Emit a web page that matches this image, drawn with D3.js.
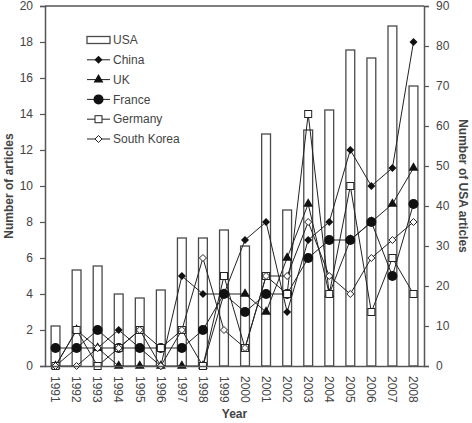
<!DOCTYPE html>
<html>
<head>
<meta charset="utf-8">
<script src="https://cdn.jsdelivr.net/npm/d3@7"></script>
<style>
  body { margin: 0; background: #fff; }
  text { font-family: "Liberation Sans", Arial, sans-serif; }
</style>
</head>
<body>
<svg id="chart" width="472" height="423"></svg>
<script>
// data
var years = ['1991', '1992', '1993', '1994', '1995', '1996', '1997', '1998', '1999',
  '2000', '2001', '2002', '2003', '2004', '2005', '2006', '2007', '2008']
var usa = [10, 24, 25, 18, 17, 19, 32, 32, 34, 30, 58, 39, 59, 64, 79, 77, 85, 70]
var china = [0, 1, 1, 2, 1, 0, 5, 4, 4, 7, 8, 3, 7, 8, 12, 10, 11, 18]
var uk = [0, 2, 1, 0, 0, 0, 0, 0, 4, 4, 3, 6, 9, 4, 7, 8, 9, 11]
var france = [1, 1, 2, 1, 1, 1, 1, 2, 4, 3, 4, 4, 6, 7, 7, 8, 5, 9]
var germany = [0, 2, 0, 1, 2, 1, 2, 0, 5, 1, 5, 4, 14, 4, 10, 3, 6, 4]
var southKorea = [0, 0, 1, 1, 2, 0, 2, 6, 2, 1, 5, 5, 8, 5, 4, 6, 7, 8]
var leftTicks = [0, 2, 4, 6, 8, 10, 12, 14, 16, 18, 20]
var rightTicks = [0, 10, 20, 30, 40, 50, 60, 70, 80, 90]

var series = [
  {name: 'China', values: china, marker: 'diamondFill'},
  {name: 'UK', values: uk, marker: 'triangle'},
  {name: 'France', values: france, marker: 'circle'},
  {name: 'Germany', values: germany, marker: 'square'},
  {name: 'South Korea', values: southKorea, marker: 'diamondOpen'}
]

var svg = d3.select('#chart')
var margin = {top: 6, right: 48, bottom: 57, left: 45}
var width = 472 - margin.left - margin.right
var height = 423 - margin.top - margin.bottom
var axisColor = '#555'
var textColor = '#444'
var fontSize = 12

var g = svg.append('g')
  .attr('transform', 'translate(' + margin.left + ',' + margin.top + ')')

// scales
var x = d3.scaleBand().domain(years).range([0, width])
var y = d3.scaleLinear().domain([0, 20]).range([height, 0])
var y2 = d3.scaleLinear().domain([0, 90]).range([height, 0])
var cx = function (i) { return x(years[i]) + x.bandwidth() / 2 }

// bars (USA, right axis)
var barW = x.bandwidth() * 0.42
g.selectAll('rect.usa').data(usa).enter().append('rect')
  .attr('class', 'usa')
  .attr('x', (d, i) => cx(i) - barW / 2)
  .attr('y', (d) => y2(d))
  .attr('width', barW)
  .attr('height', (d) => height - y2(d))
  .attr('fill', '#fff')
  .attr('stroke', '#4a4a4a')
  .attr('stroke-width', 1.3)

// marker drawing
function drawMarker (sel, type) {
  if (type === 'circle') {
    sel.append('circle').attr('r', 5).attr('fill', '#111')
  } else if (type === 'triangle') {
    sel.append('path').attr('d', d3.symbol().type(d3.symbolTriangle).size(42)).attr('fill', '#111')
  } else if (type === 'diamondFill') {
    sel.append('path').attr('d', 'M0,-4L4,0L0,4L-4,0Z').attr('fill', '#111')
  } else if (type === 'square') {
    sel.append('rect').attr('x', -3.5).attr('y', -3.5).attr('width', 7).attr('height', 7)
      .attr('fill', '#fff').attr('stroke', '#222').attr('stroke-width', 1)
  } else if (type === 'diamondOpen') {
    sel.append('path').attr('d', 'M0,-3.5L3.5,0L0,3.5L-3.5,0Z')
      .attr('fill', '#fff').attr('stroke', '#222').attr('stroke-width', 1)
  }
}

var line = d3.line().x((d, i) => cx(i)).y((d) => y(d))
series.forEach(function (s) {
  g.append('path').datum(s.values)
    .attr('fill', 'none')
    .attr('stroke', '#222')
    .attr('stroke-width', 1)
    .attr('d', line)
})
series.forEach(function (s) {
  s.values.forEach(function (v, i) {
    var m = g.append('g').attr('transform', 'translate(' + cx(i) + ',' + y(v) + ')')
    drawMarker(m, s.marker)
  })
})

// axes
var leftAxis = g.append('g')
  .call(d3.axisLeft(y).tickValues(leftTicks).tickSize(5).tickPadding(7))
var rightAxis = g.append('g')
  .attr('transform', 'translate(' + width + ',0)')
  .call(d3.axisRight(y2).tickValues(rightTicks).tickSize(5).tickPadding(7))
var bottomAxis = g.append('g')
  .attr('transform', 'translate(0,' + height + ')')
  .call(d3.axisBottom(x).tickSize(0).tickPadding(0))
bottomAxis.selectAll('text')
  .attr('transform', 'rotate(90)')
  .attr('x', 10)
  .attr('y', 0)
  .attr('dy', '0.35em')
  .attr('text-anchor', 'start')

;[leftAxis, rightAxis, bottomAxis].forEach(function (a) {
  a.select('.domain').attr('stroke', axisColor).attr('stroke-width', 1.5)
  a.selectAll('.tick line').attr('stroke', axisColor).attr('stroke-width', 1.2)
  a.selectAll('text').attr('fill', textColor).style('font-size', fontSize + 'px')
    .style('font-family', '"Liberation Sans", Arial, sans-serif')
})
// top frame line
g.append('line')
  .attr('x1', 0).attr('x2', width).attr('y1', 0).attr('y2', 0)
  .attr('stroke', axisColor).attr('stroke-width', 1.5)

// axis titles
svg.append('text')
  .attr('transform', 'translate(' + (margin.left + width / 2) + ',418)')
  .attr('text-anchor', 'middle')
  .attr('font-weight', 'bold').attr('font-size', fontSize).attr('fill', textColor)
  .text('Year')
svg.append('text')
  .attr('transform', 'translate(13,' + (margin.top + height / 2) + ') rotate(-90)')
  .attr('text-anchor', 'middle')
  .attr('font-weight', 'bold').attr('font-size', fontSize).attr('fill', textColor)
  .text('Number of articles')
svg.append('text')
  .attr('transform', 'translate(459,' + (margin.top + height / 2) + ') rotate(90)')
  .attr('text-anchor', 'middle')
  .attr('font-weight', 'bold').attr('font-size', fontSize).attr('fill', textColor)
  .text('Number of USA articles')

// legend
var legend = svg.append('g').attr('transform', 'translate(87,40)')
var legendItems = [{name: 'USA', marker: 'bar'}].concat(series)
legendItems.forEach(function (s, i) {
  var row = legend.append('g').attr('transform', 'translate(0,' + (i * 19.8) + ')')
  if (s.marker === 'bar') {
    row.append('rect').attr('x', 0).attr('y', -3.5).attr('width', 23).attr('height', 7)
      .attr('fill', '#fff').attr('stroke', '#4a4a4a').attr('stroke-width', 1.3)
  } else {
    row.append('line').attr('x1', 0).attr('x2', 23).attr('y1', 0).attr('y2', 0)
      .attr('stroke', '#222').attr('stroke-width', 1)
    drawMarker(row.append('g').attr('transform', 'translate(11.5,0)'), s.marker)
  }
  row.append('text').attr('x', 26).attr('y', 0).attr('dy', '0.35em')
    .attr('font-size', fontSize).attr('fill', textColor)
    .text(s.name)
})
</script>
</body>
</html>
